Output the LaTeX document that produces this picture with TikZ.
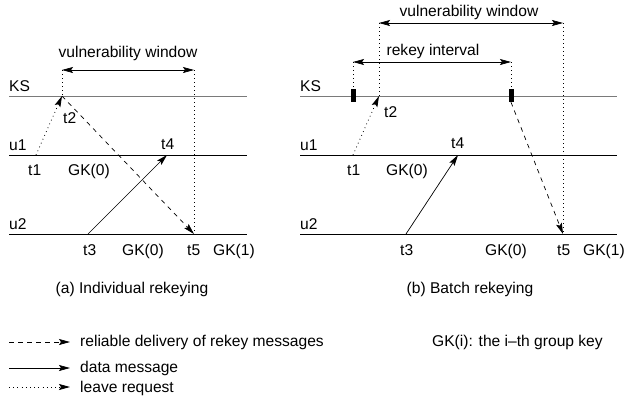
\documentclass[tikz,border=0pt]{standalone}
\usepackage{fontspec}
\setmainfont{Liberation Sans}
\usepackage{xcolor}
\usetikzlibrary{positioning,calc,arrows.meta}
\definecolor{rkGreyLine}{HTML}{7A7A7A}
\definecolor{rkBlackLine}{HTML}{000000}

\tikzset{
  lbl/.style={font=\fontsize{15.6}{18}\selectfont, inner sep=0pt, anchor=base west},
  ctrlbl/.style={lbl, anchor=base},
  msgtip/.style={-{Stealth[length=11pt,width=6pt,inset=2pt]}},
  rekeymsg/.style={msgtip, dash pattern=on 4.5pt off 4.5pt, line width=0.7pt},
  datamsg/.style={msgtip, line width=0.7pt},
  leavemsg/.style={msgtip, dash pattern=on 0.8pt off 3.4pt, line width=0.8pt},
  guide/.style={dash pattern=on 0.8pt off 3.2pt, line width=0.8pt},
  spanarrow/.style={{Stealth[length=11pt,width=6pt,inset=2pt]}-{Stealth[length=11pt,width=6pt,inset=2pt]}, line width=0.7pt},
  keymark/.style={fill=rkBlackLine, draw=none, minimum width=5pt, minimum height=13pt, inner sep=0pt}
}

\begin{document}
\begin{tikzpicture}[x=1pt, y=-1pt]
\useasboundingbox (0,0) rectangle (624,399);

% --- PARAMETERS ---
\def\yKS{96}    % key server line
\def\yUa{155}   % u1 line
\def\yUb{234}   % u2 line

% --- TIME LINES + NAMES ---
\foreach \p/\xs/\xe in {a/9/247, b/300/617} {
  \draw[rkGreyLine, line width=0.9pt] (\xs,\yKS) -- (\xe,\yKS);
  \draw[rkBlackLine, line width=0.8pt] (\xs,\yUa) -- (\xe,\yUa);
  \draw[rkBlackLine, line width=0.8pt] (\xs,\yUb) -- (\xe,\yUb);
  \node[lbl] (\p-ks) at (\xs,91) {KS};
  \node[lbl] (\p-u1) at (\xs,150) {u1};
  \node[lbl] (\p-u2) at (\xs,229) {u2};
}

% --- (a) INDIVIDUAL REKEYING ---
\coordinate (a-t1) at (36,\yUa);
\coordinate (a-t2) at (62,\yKS);
\coordinate (a-t3) at (88,\yUb);
\coordinate (a-t4) at (167,\yUa);
\coordinate (a-t5) at (194,\yUb);
\coordinate (a-vl) at (62,70);
\coordinate (a-vr) at (194,70);

\draw[guide] (a-vl) -- (a-t2);
\draw[guide] (a-vr) -- (a-t5);
\draw[spanarrow] (a-vl) -- (a-vr);
\node[ctrlbl] (a-vw) at (128,57) {vulnerability window};

\draw[leavemsg] (a-t1) -- (a-t2);
\draw[rekeymsg] (a-t2) -- (a-t5);
\draw[datamsg] (a-t3) -- (a-t4);

\node[lbl] (a-l2) at (63,123) {t2};
\node[lbl] (a-l1) at (28,175) {t1};
\node[lbl] (a-g1) at (68,175) {GK(0)};
\node[lbl] (a-l4) at (161,149) {t4};
\node[lbl] (a-l3) at (83,255) {t3};
\node[lbl] (a-g2) at (122,255) {GK(0)};
\node[lbl] (a-l5) at (187,255) {t5};
\node[lbl] (a-g3) at (213,255) {GK(1)};
\node[ctrlbl] (a-cap) at (132,293) {(a) Individual rekeying};

% --- (b) BATCH REKEYING ---
\coordinate (b-t1) at (353,\yUa);
\coordinate (b-t2) at (379,\yKS);
\coordinate (b-t3) at (406,\yUb);
\coordinate (b-t4) at (458,\yUa);
\coordinate (b-t5) at (563,\yUb);
\coordinate (b-vl) at (379,23);
\coordinate (b-vr) at (563,23);
\coordinate (b-rl) at (353,62);
\coordinate (b-rr) at (511,62);
\node[keymark] (b-k1) at (353,95.5) {};
\node[keymark] (b-k2) at (511,95.5) {};

\draw[guide] (b-vl) -- (b-t2);
\draw[guide] (b-vr) -- (b-t5);
\draw[guide] (b-rl) -- (b-k1.north);
\draw[guide] (b-rr) -- (b-k2.north);
\draw[spanarrow] (b-vl) -- (b-vr);
\draw[spanarrow] (b-rl) -- (b-rr);
\node[ctrlbl] (b-vw) at (469,16) {vulnerability window};
\node[ctrlbl] (b-ri) at (433,55) {rekey interval};

\draw[leavemsg] (b-t1) -- (b-t2);
\draw[rekeymsg] (b-k2.south) -- (b-t5);
\draw[datamsg] (b-t3) -- (b-t4);

\node[lbl] (b-l2) at (384,117) {t2};
\node[lbl] (b-l1) at (347,175) {t1};
\node[lbl] (b-g1) at (386,175) {GK(0)};
\node[lbl] (b-l4) at (451,148) {t4};
\node[lbl] (b-l3) at (400,255) {t3};
\node[lbl] (b-g2) at (485,255) {GK(0)};
\node[lbl] (b-l5) at (557,255) {t5};
\node[lbl] (b-g3) at (583,255) {GK(1)};
\node[ctrlbl] (b-cap) at (470,293) {(b) Batch rekeying};

% --- LEGEND ---
\coordinate (lg-r1) at (9,342);  \coordinate (lg-r2) at (70,342);
\coordinate (lg-d1) at (9,368);  \coordinate (lg-d2) at (70,368);
\coordinate (lg-l1) at (9,387);  \coordinate (lg-l2) at (70,387);
\draw[rekeymsg] (lg-r1) -- (lg-r2);
\draw[datamsg] (lg-d1) -- (lg-d2);
\draw[leavemsg] (lg-l1) -- (lg-l2);
\node[lbl] (lg-rt) at (80,346) {reliable delivery of rekey messages};
\node[lbl] (lg-dt) at (80,372) {data message};
\node[lbl] (lg-lt) at (80,392) {leave request};
\node[lbl] (lg-gk) at (432,346) {GK(i): the i--th group key};

\end{tikzpicture}
\end{document}
